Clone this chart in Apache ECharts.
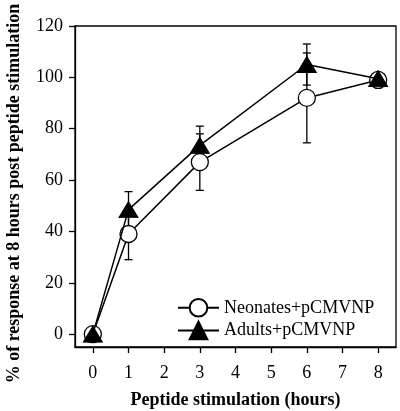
<!DOCTYPE html>
<html><head><meta charset="utf-8">
<script src="https://cdn.jsdelivr.net/npm/echarts@6/dist/echarts.min.js"></script>
<style>html,body{margin:0;padding:0;background:#fff}#c{width:400px;height:411px}</style>
</head><body><div id="c"></div>
<script>
const hours = [0, 1, 3, 6, 8];
const neonates = [0, 39, 67, 92, 99];
const neonatesLow = [0, 29, 56, 74.5, 98];
const neonatesHigh = [0, 49, 78, 109.5, 100];
const adults = [0, 48.5, 73.5, 105, 99.5];
const adultsLow = [0, 41, 66, 97, 98.5];
const adultsHigh = [0, 55.5, 81, 113, 100.5];
const xTicks = [0, 1, 2, 3, 4, 5, 6, 7, 8];
const yTicks = [0, 20, 40, 60, 80, 100, 120];

const font = 'Liberation Serif';
function pairs(xs, ys){ return xs.map((x,i)=>[x, ys[i]]); }
function errData(xs, lo, hi){ return xs.map((x,i)=>[x, lo[i], hi[i]]); }
function errRender(params, api){
  const x = api.value(0);
  const lo = api.coord([x, api.value(1)]);
  const hi = api.coord([x, api.value(2)]);
  const w = 4;
  const st = {stroke:'#000', lineWidth:1.3};
  return {type:'group', children:[
    {type:'line', shape:{x1:lo[0], y1:lo[1], x2:hi[0], y2:hi[1]}, style:st},
    {type:'line', shape:{x1:lo[0]-w, y1:lo[1], x2:lo[0]+w, y2:lo[1]}, style:st},
    {type:'line', shape:{x1:hi[0]-w, y1:hi[1], x2:hi[0]+w, y2:hi[1]}, style:st}
  ]};
}

const chart = echarts.init(document.getElementById('c'), null, {renderer:'canvas'});
chart.setOption({
  animation:false,
  backgroundColor:'#fff',
  grid:{left:75, right:4, top:26, bottom:64, outerBoundsMode:'none', containLabel:false,
    show:true, borderColor:'#000', borderWidth:1.3, backgroundColor:'transparent'},
  xAxis:{type:'value', min:-0.5, max:8.5,
    name:'Peptide stimulation (hours)', nameLocation:'middle', nameGap:44,
    nameTextStyle:{fontFamily:font, fontWeight:'bold', fontSize:18, color:'#000'},
    axisLine:{show:true, onZero:false, lineStyle:{color:'#000', width:1.3}},
    axisTick:{show:true, inside:false, length:6, customValues:xTicks, lineStyle:{color:'#000', width:1.3}},
    axisLabel:{customValues:xTicks, margin:17, fontFamily:font, fontSize:18, color:'#000'},
    splitLine:{show:false}},
  yAxis:{type:'value', min:-5, max:120,
    name:'% of response at 8 hours post peptide stimulation', nameLocation:'middle', nameGap:52,
    nameTextStyle:{fontFamily:font, fontWeight:'bold', fontSize:18, color:'#000', padding:[0,14,0,0]},
    axisLine:{show:true, onZero:false, lineStyle:{color:'#000', width:1.3}},
    axisTick:{show:true, inside:false, length:6, customValues:yTicks, lineStyle:{color:'#000', width:1.3}},
    axisLabel:{customValues:yTicks, margin:12, fontFamily:font, fontSize:18, color:'#000'},
    splitLine:{show:false}},
  legend:{orient:'vertical', left:172, top:293, itemWidth:41, itemHeight:22, itemGap:3,
    textStyle:{fontFamily:font, fontSize:18, color:'#000'},
    data:['Neonates+pCMVNP','Adults+pCMVNP']},
  series:[
    {type:'custom', name:'nerr', renderItem:errRender, data:errData(hours, neonatesLow, neonatesHigh), z:1, silent:true},
    {type:'custom', name:'aerr', renderItem:errRender, data:errData(hours, adultsLow, adultsHigh), z:1, silent:true},
    {type:'line', name:'Neonates+pCMVNP', data:pairs(hours, neonates), symbol:'circle', symbolSize:17,
      lineStyle:{color:'#000', width:1.5}, itemStyle:{color:'#fff', borderColor:'#000', borderWidth:1.3}, z:3},
    {type:'line', name:'Adults+pCMVNP', data:pairs(hours, adults), symbol:'triangle', symbolSize:[19,16],
      lineStyle:{color:'#000', width:1.5}, itemStyle:{color:'#000', borderColor:'#000', borderWidth:1}, z:4}
  ]
});
</script></body></html>
